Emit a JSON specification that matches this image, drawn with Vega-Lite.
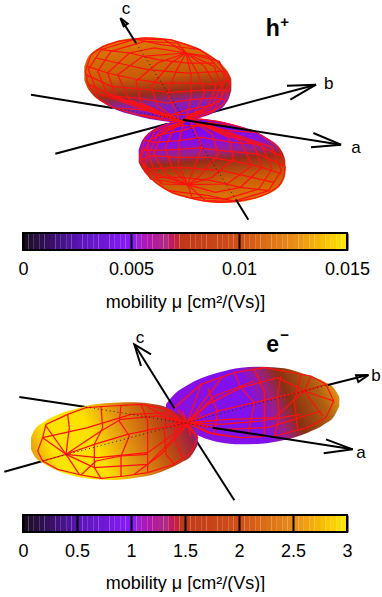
{"$schema":"https://vega.github.io/schema/vega-lite/v6.json","padding":0,"spacing":0,"background":"white","resolve":{"scale":{"color":"independent"}},"config":{"view":{"stroke":null},"font":"Liberation Sans","axis":{"labelFont":"Liberation Sans","titleFont":"Liberation Sans"}},
"vconcat":[
{"width":382,"height":229,
"encoding":{"x":{"field":"x","type":"quantitative","axis":null,"scale":{"domain":[0,1146],"nice":false,"zero":false}},"y":{"field":"y","type":"quantitative","axis":null,"scale":{"domain":[687,0],"nice":false,"zero":false}}},
"layer":[
{"data":{"values":[{"g":"a1","x":90,"y":275},{"g":"a1","x":335,"y":315},{"g":"b1","x":163,"y":452},{"g":"b1","x":500,"y":362},{"g":"b2","x":605,"y":335},{"g":"b2","x":945,"y":245},{"g":"bh","x":858,"y":248},{"g":"bh","x":945,"y":245},{"g":"bh","x":868,"y":290}]},"mark":{"type":"line","color":"black","strokeWidth":2},"encoding":{"detail":{"field":"g"},"order":{"value":null}}},
{"data":{"values":[{"x":250,"t":190,"b":232},{"x":258,"t":168,"b":252},{"x":272,"t":150,"b":272},{"x":300,"t":131,"b":295},{"x":340,"t":116,"b":318},{"x":400,"t":105,"b":337},{"x":450,"t":103,"b":349},{"x":500,"t":108,"b":356},{"x":540,"t":117,"b":358},{"x":590,"t":135,"b":347},{"x":640,"t":165,"b":328},{"x":672,"t":195,"b":305},{"x":684,"t":212,"b":285},{"x":691,"t":228,"b":262}]},"mark":{"type":"area","interpolate":"monotone","color":{"gradient":"linear","x1":0.42,"y1":0,"x2":0.58,"y2":1,"stops":[{"offset":0,"color":"#e07a00"},{"offset":0.45,"color":"#c85c08"},{"offset":0.65,"color":"#982c18"},{"offset":0.78,"color":"#8a20a8"},{"offset":1,"color":"#7a10e8"}]}},"encoding":{"y":{"field":"t","type":"quantitative"},"y2":{"field":"b"}}},
{"data":{"values":[{"x":413,"t":440,"b":478},{"x":420,"t":420,"b":492},{"x":433,"t":400,"b":510},{"x":463,"t":376,"b":540},{"x":513,"t":356,"b":571},{"x":563,"t":345,"b":586},{"x":603,"t":347,"b":595},{"x":653,"t":354,"b":600},{"x":703,"t":366,"b":598},{"x":763,"t":385,"b":587},{"x":803,"t":408,"b":572},{"x":833,"t":431,"b":553},{"x":846,"t":451,"b":535},{"x":853,"t":471,"b":513}]},"mark":{"type":"area","interpolate":"monotone","color":{"gradient":"linear","x1":0.42,"y1":0,"x2":0.58,"y2":1,"stops":[{"offset":0,"color":"#7000ff"},{"offset":0.28,"color":"#8a10e0"},{"offset":0.4,"color":"#982090"},{"offset":0.5,"color":"#982c18"},{"offset":0.72,"color":"#c85c08"},{"offset":1,"color":"#e07a00"}]}},"encoding":{"y":{"field":"t","type":"quantitative"},"y2":{"field":"b"}}},
{"data":{"values":[
{"g":"o","x":340,"y":315},{"g":"o","x":295,"y":290},{"g":"o","x":262,"y":245},{"g":"o","x":253,"y":205},{"g":"o","x":270,"y":155},{"g":"o","x":305,"y":131},{"g":"o","x":350,"y":115},{"g":"o","x":430,"y":105},{"g":"o","x":510,"y":110},{"g":"o","x":590,"y":137},{"g":"o","x":650,"y":175},{"g":"o","x":682,"y":215},{"g":"o","x":688,"y":250},{"g":"o","x":670,"y":300},{"g":"o","x":638,"y":325},{"g":"o","x":600,"y":340},{"g":"o","x":540,"y":355},{"g":"o","x":480,"y":350},{"g":"o","x":420,"y":338},{"g":"o","x":340,"y":315},
{"g":"L1","x":555,"y":150},{"g":"L1","x":610,"y":190},{"g":"L1","x":645,"y":250},{"g":"L1","x":620,"y":310},{"g":"L1","x":545,"y":350},
{"g":"L2","x":555,"y":150},{"g":"L2","x":570,"y":215},{"g":"L2","x":570,"y":280},{"g":"L2","x":555,"y":350},
{"g":"L3","x":555,"y":150},{"g":"L3","x":525,"y":205},{"g":"L3","x":500,"y":270},{"g":"L3","x":535,"y":350},
{"g":"L4","x":555,"y":150},{"g":"L4","x":470,"y":180},{"g":"L4","x":405,"y":235},{"g":"L4","x":420,"y":300},{"g":"L4","x":530,"y":350},
{"g":"L5","x":555,"y":150},{"g":"L5","x":460,"y":135},{"g":"L5","x":385,"y":150},{"g":"L5","x":320,"y":210},{"g":"L5","x":345,"y":280},{"g":"L5","x":530,"y":352},
{"g":"L6","x":555,"y":150},{"g":"L6","x":490,"y":110},{"g":"L6","x":405,"y":108},{"g":"L6","x":300,"y":140},{"g":"L6","x":262,"y":200},{"g":"L6","x":290,"y":270},{"g":"L6","x":530,"y":355},
{"g":"L7","x":555,"y":150},{"g":"L7","x":655,"y":175},{"g":"L7","x":685,"y":240},{"g":"L7","x":640,"y":320},{"g":"L7","x":550,"y":350},
{"g":"L8","x":555,"y":150},{"g":"L8","x":620,"y":160},{"g":"L8","x":670,"y":215},{"g":"L8","x":660,"y":290},{"g":"L8","x":550,"y":350},
{"g":"L9","x":555,"y":150},{"g":"L9","x":590,"y":210},{"g":"L9","x":610,"y":270},{"g":"L9","x":585,"y":325},{"g":"L9","x":550,"y":350},
{"g":"L10","x":555,"y":150},{"g":"L10","x":510,"y":180},{"g":"L10","x":450,"y":250},{"g":"L10","x":470,"y":310},{"g":"L10","x":535,"y":352},
{"g":"L11","x":555,"y":150},{"g":"L11","x":425,"y":160},{"g":"L11","x":350,"y":215},{"g":"L11","x":385,"y":290},{"g":"L11","x":530,"y":350},
{"g":"L12","x":555,"y":150},{"g":"L12","x":530,"y":120},{"g":"L12","x":430,"y":115},{"g":"L12","x":330,"y":145},{"g":"L12","x":290,"y":205},{"g":"L12","x":320,"y":275},{"g":"L12","x":530,"y":352},
{"g":"L13","x":555,"y":150},{"g":"L13","x":640,"y":190},{"g":"L13","x":660,"y":250},{"g":"L13","x":630,"y":315},{"g":"L13","x":550,"y":350},
{"g":"R1","x":260,"y":190},{"g":"R1","x":320,"y":210},{"g":"R1","x":400,"y":228},{"g":"R1","x":480,"y":240},{"g":"R1","x":570,"y":240},{"g":"R1","x":650,"y":245},{"g":"R1","x":688,"y":230},
{"g":"R2","x":265,"y":245},{"g":"R2","x":340,"y":280},{"g":"R2","x":410,"y":285},{"g":"R2","x":500,"y":300},{"g":"R2","x":570,"y":290},{"g":"R2","x":640,"y":285},{"g":"R2","x":670,"y":290},
{"g":"R3","x":340,"y":315},{"g":"R3","x":420,"y":320},{"g":"R3","x":500,"y":335},{"g":"R3","x":560,"y":335},{"g":"R3","x":610,"y":325},
{"g":"R4","x":300,"y":140},{"g":"R4","x":385,"y":150},{"g":"R4","x":470,"y":170},{"g":"R4","x":560,"y":180},{"g":"R4","x":640,"y":180},
{"g":"R5","x":400,"y":108},{"g":"R5","x":480,"y":125},{"g":"R5","x":560,"y":135},{"g":"R5","x":600,"y":140},
{"g":"R6","x":255,"y":215},{"g":"R6","x":330,"y":250},{"g":"R6","x":420,"y":258},{"g":"R6","x":510,"y":268},{"g":"R6","x":600,"y":262},{"g":"R6","x":685,"y":262},
{"g":"R7","x":285,"y":165},{"g":"R7","x":350,"y":180},{"g":"R7","x":440,"y":200},{"g":"R7","x":560,"y":210},{"g":"R7","x":665,"y":205},
{"g":"R8","x":420,"y":335},{"g":"R8","x":480,"y":345},{"g":"R8","x":560,"y":320},{"g":"R8","x":640,"y":305},
{"g":"p","x":853,"y":493},{"g":"p","x":848,"y":525},{"g":"p","x":833,"y":550},{"g":"p","x":803,"y":570},{"g":"p","x":763,"y":585},{"g":"p","x":703,"y":596},{"g":"p","x":653,"y":598},{"g":"p","x":603,"y":593},{"g":"p","x":563,"y":584},{"g":"p","x":513,"y":569},{"g":"p","x":463,"y":538},{"g":"p","x":433,"y":508},{"g":"p","x":416,"y":463},{"g":"p","x":433,"y":402},{"g":"p","x":463,"y":378},{"g":"p","x":513,"y":358},{"g":"p","x":563,"y":347},{"g":"p","x":603,"y":349},{"g":"p","x":653,"y":356},{"g":"p","x":703,"y":368},{"g":"p","x":763,"y":387},{"g":"p","x":803,"y":410},{"g":"p","x":833,"y":433},{"g":"p","x":853,"y":493},
{"g":"M1","x":560,"y":545},{"g":"M1","x":493,"y":513},{"g":"M1","x":458,"y":453},{"g":"M1","x":483,"y":393},{"g":"M1","x":558,"y":353},
{"g":"M2","x":560,"y":545},{"g":"M2","x":533,"y":488},{"g":"M2","x":533,"y":423},{"g":"M2","x":548,"y":353},
{"g":"M3","x":560,"y":545},{"g":"M3","x":578,"y":498},{"g":"M3","x":603,"y":433},{"g":"M3","x":568,"y":353},
{"g":"M4","x":560,"y":545},{"g":"M4","x":633,"y":523},{"g":"M4","x":698,"y":468},{"g":"M4","x":683,"y":403},{"g":"M4","x":573,"y":353},
{"g":"M5","x":560,"y":545},{"g":"M5","x":643,"y":568},{"g":"M5","x":718,"y":553},{"g":"M5","x":783,"y":493},{"g":"M5","x":758,"y":423},{"g":"M5","x":573,"y":351},
{"g":"M6","x":560,"y":545},{"g":"M6","x":613,"y":593},{"g":"M6","x":698,"y":595},{"g":"M6","x":803,"y":563},{"g":"M6","x":841,"y":503},{"g":"M6","x":813,"y":433},{"g":"M6","x":573,"y":348},
{"g":"M7","x":560,"y":545},{"g":"M7","x":448,"y":528},{"g":"M7","x":418,"y":463},{"g":"M7","x":463,"y":383},{"g":"M7","x":553,"y":353},
{"g":"M8","x":560,"y":545},{"g":"M8","x":483,"y":543},{"g":"M8","x":433,"y":488},{"g":"M8","x":443,"y":413},{"g":"M8","x":553,"y":353},
{"g":"M9","x":560,"y":545},{"g":"M9","x":513,"y":493},{"g":"M9","x":493,"y":433},{"g":"M9","x":518,"y":378},{"g":"M9","x":553,"y":353},
{"g":"M10","x":560,"y":545},{"g":"M10","x":593,"y":523},{"g":"M10","x":653,"y":453},{"g":"M10","x":633,"y":393},{"g":"M10","x":568,"y":351},
{"g":"M11","x":560,"y":545},{"g":"M11","x":678,"y":543},{"g":"M11","x":753,"y":488},{"g":"M11","x":718,"y":413},{"g":"M11","x":573,"y":353},
{"g":"M12","x":560,"y":545},{"g":"M12","x":573,"y":583},{"g":"M12","x":673,"y":588},{"g":"M12","x":773,"y":558},{"g":"M12","x":813,"y":498},{"g":"M12","x":783,"y":428},{"g":"M12","x":573,"y":351},
{"g":"M13","x":560,"y":545},{"g":"M13","x":463,"y":513},{"g":"M13","x":443,"y":453},{"g":"M13","x":473,"y":388},{"g":"M13","x":553,"y":353},
{"g":"S1","x":843,"y":513},{"g":"S1","x":783,"y":493},{"g":"S1","x":703,"y":475},{"g":"S1","x":623,"y":463},{"g":"S1","x":533,"y":463},{"g":"S1","x":453,"y":458},{"g":"S1","x":415,"y":473},
{"g":"S2","x":838,"y":458},{"g":"S2","x":763,"y":423},{"g":"S2","x":693,"y":418},{"g":"S2","x":603,"y":403},{"g":"S2","x":533,"y":413},{"g":"S2","x":463,"y":418},{"g":"S2","x":433,"y":413},
{"g":"S3","x":763,"y":388},{"g":"S3","x":683,"y":383},{"g":"S3","x":603,"y":368},{"g":"S3","x":543,"y":368},{"g":"S3","x":493,"y":378},
{"g":"S4","x":803,"y":563},{"g":"S4","x":718,"y":553},{"g":"S4","x":633,"y":533},{"g":"S4","x":543,"y":523},{"g":"S4","x":463,"y":523},
{"g":"S5","x":703,"y":595},{"g":"S5","x":623,"y":578},{"g":"S5","x":543,"y":568},{"g":"S5","x":503,"y":563},
{"g":"S6","x":848,"y":488},{"g":"S6","x":773,"y":453},{"g":"S6","x":683,"y":445},{"g":"S6","x":593,"y":435},{"g":"S6","x":503,"y":441},{"g":"S6","x":418,"y":441},
{"g":"S7","x":818,"y":538},{"g":"S7","x":753,"y":523},{"g":"S7","x":663,"y":503},{"g":"S7","x":543,"y":493},{"g":"S7","x":438,"y":498},
{"g":"S8","x":683,"y":368},{"g":"S8","x":623,"y":358},{"g":"S8","x":543,"y":383},{"g":"S8","x":463,"y":398}
]},"mark":{"type":"line","color":"#ff1010","strokeWidth":1.25},"encoding":{"detail":{"field":"g"},"order":{"value":null}}},
{"data":{"values":[{"g":"a","x":335,"y":315},{"g":"a","x":545,"y":350},{"g":"c","x":705,"y":590},{"g":"c","x":405,"y":120}]},"mark":{"type":"line","color":"#222222","strokeWidth":1,"strokeDash":[1,3]},"encoding":{"detail":{"field":"g"},"order":{"value":null}}},
{"data":{"values":[{"g":"a2","x":545,"y":350},{"g":"a2","x":1020,"y":425},{"g":"ah","x":937,"y":390},{"g":"ah","x":1020,"y":425},{"g":"ah","x":930,"y":433},{"g":"c1","x":742,"y":650},{"g":"c1","x":705,"y":590},{"g":"c2","x":405,"y":120},{"g":"c2","x":360,"y":48},{"g":"ch","x":358,"y":45},{"g":"ch","x":380,"y":62},{"g":"ch","x":368,"y":70},{"g":"ch","x":358,"y":45}]},"mark":{"type":"line","color":"black","strokeWidth":2},"encoding":{"detail":{"field":"g"},"order":{"value":null}}},
{"data":{"values":[{"label":"a","x":1065,"y":435},{"label":"b","x":983,"y":243},{"label":"c","x":375,"y":18}]},"mark":{"type":"text","fontSize":17,"color":"black","align":"center","baseline":"middle"},"encoding":{"text":{"field":"label"}}},
{"data":{"values":[{"label":"h","x":815,"y":78}]},"mark":{"type":"text","fontSize":23,"fontWeight":"bold","color":"black","align":"center","baseline":"middle"},"encoding":{"text":{"field":"label"}}},
{"data":{"values":[{"label":"+","x":851,"y":56}]},"mark":{"type":"text","fontSize":15,"fontWeight":"bold","color":"black","align":"center","baseline":"middle"},"encoding":{"text":{"field":"label"}}}
]},
{"width":382,"height":17,"data":{"values":[{"v":0,"e":0.00025},{"v":0.00025,"e":0.0005},{"v":0.0005,"e":0.00075},{"v":0.00075,"e":0.001},{"v":0.001,"e":0.00125},{"v":0.00125,"e":0.0015},{"v":0.0015,"e":0.00175},{"v":0.00175,"e":0.002},{"v":0.002,"e":0.00225},{"v":0.00225,"e":0.0025},{"v":0.0025,"e":0.00275},{"v":0.00275,"e":0.003},{"v":0.003,"e":0.00325},{"v":0.00325,"e":0.0035},{"v":0.0035,"e":0.00375},{"v":0.00375,"e":0.004},{"v":0.004,"e":0.00425},{"v":0.00425,"e":0.0045},{"v":0.0045,"e":0.00475},{"v":0.00475,"e":0.005},{"v":0.005,"e":0.00525},{"v":0.00525,"e":0.0055},{"v":0.0055,"e":0.00575},{"v":0.00575,"e":0.006},{"v":0.006,"e":0.00625},{"v":0.00625,"e":0.0065},{"v":0.0065,"e":0.00675},{"v":0.00675,"e":0.007},{"v":0.007,"e":0.00725},{"v":0.00725,"e":0.0075},{"v":0.0075,"e":0.00775},{"v":0.00775,"e":0.008},{"v":0.008,"e":0.00825},{"v":0.00825,"e":0.0085},{"v":0.0085,"e":0.00875},{"v":0.00875,"e":0.009},{"v":0.009,"e":0.00925},{"v":0.00925,"e":0.0095},{"v":0.0095,"e":0.00975},{"v":0.00975,"e":0.01},{"v":0.01,"e":0.01025},{"v":0.01025,"e":0.0105},{"v":0.0105,"e":0.01075},{"v":0.01075,"e":0.011},{"v":0.011,"e":0.01125},{"v":0.01125,"e":0.0115},{"v":0.0115,"e":0.01175},{"v":0.01175,"e":0.012},{"v":0.012,"e":0.01225},{"v":0.01225,"e":0.0125},{"v":0.0125,"e":0.01275},{"v":0.01275,"e":0.013},{"v":0.013,"e":0.01325},{"v":0.01325,"e":0.0135},{"v":0.0135,"e":0.01375},{"v":0.01375,"e":0.014},{"v":0.014,"e":0.01425},{"v":0.01425,"e":0.0145},{"v":0.0145,"e":0.01475},{"v":0.01475,"e":0.015}]},
"layer":[
{"mark":{"type":"rect"},"encoding":{"x":{"field":"v","type":"quantitative","scale":{"domain":[0,0.015],"range":[22,346],"nice":false,"zero":false},"axis":{"values":[0,0.005,0.01,0.015],"format":"~g","title":"mobility μ [cm²/(Vs)]","labelFontSize":18,"titleFontSize":18,"labelColor":"black","titleColor":"black","titleFontWeight":"normal","labelFlush":false,"labelOverlap":false,"tickSize":0,"domain":false,"grid":true,"gridColor":"black","gridWidth":2,"zindex":1,"labelPadding":10,"titlePadding":15}},"x2":{"field":"e"},"color":{"field":"v","type":"quantitative","legend":null,"scale":{"domain":[0,0.001,0.0025,0.005,0.0052,0.0065,0.0072,0.01,0.0125,0.015],"range":["#1c0c24","#33105c","#5c14b8","#8c1cff","#a020d0","#b02c80","#c03818","#d05018","#e89018","#ffee10"]}}}},
{"data":{"values":[{"v":0,"e":0.015}]},"mark":{"type":"rect","fill":null,"stroke":"black","strokeWidth":2},"encoding":{"x":{"field":"v","type":"quantitative"},"x2":{"field":"e"}}}
]},
{"width":382,"height":203,
"encoding":{"x":{"field":"x","type":"quantitative","axis":null,"scale":{"domain":[0,1146],"nice":false,"zero":false}},"y":{"field":"y","type":"quantitative","axis":null,"scale":{"domain":[579,-30],"nice":false,"zero":false}}},
"layer":[
{"data":{"values":[{"g":"a1","x":55,"y":228},{"g":"a1","x":255,"y":258},{"g":"b1","x":10,"y":452},{"g":"b1","x":125,"y":420},{"g":"c1","x":700,"y":538},{"g":"c1","x":580,"y":350}]},"mark":{"type":"line","color":"black","strokeWidth":2},"encoding":{"detail":{"field":"g"},"order":{"value":null}}},
{"data":{"values":[{"x":495,"t":250,"b":272},{"x":520,"t":220,"b":303},{"x":560,"t":192,"b":328},{"x":600,"t":172,"b":347},{"x":650,"t":155,"b":363},{"x":720,"t":140,"b":370},{"x":780,"t":137,"b":368},{"x":850,"t":142,"b":357},{"x":920,"t":163,"b":335},{"x":970,"t":182,"b":310},{"x":1000,"t":203,"b":285},{"x":1015,"t":228,"b":255}]},"mark":{"type":"area","interpolate":"monotone","color":{"gradient":"linear","x1":0,"y1":0.6,"x2":1,"y2":0.4,"stops":[{"offset":0,"color":"#8a10e0"},{"offset":0.5,"color":"#8010f0"},{"offset":0.62,"color":"#9a2080"},{"offset":0.72,"color":"#8a3010"},{"offset":0.9,"color":"#b06010"},{"offset":1,"color":"#e09010"}]}},"encoding":{"y":{"field":"t","type":"quantitative"},"y2":{"field":"b"}}},
{"data":{"values":[{"x":90,"t":350,"b":385},{"x":100,"t":328,"b":405},{"x":130,"t":302,"b":428},{"x":170,"t":281,"b":449},{"x":220,"t":265,"b":465},{"x":280,"t":250,"b":475},{"x":340,"t":245,"b":477},{"x":400,"t":244,"b":471},{"x":460,"t":250,"b":460},{"x":500,"t":260,"b":445},{"x":540,"t":283,"b":425},{"x":570,"t":298,"b":405},{"x":590,"t":325,"b":372}]},"mark":{"type":"area","interpolate":"monotone","color":{"gradient":"linear","x1":0,"y1":0.6,"x2":1,"y2":0.4,"stops":[{"offset":0,"color":"#e8a010"},{"offset":0.12,"color":"#ffe400"},{"offset":0.38,"color":"#ffe000"},{"offset":0.58,"color":"#e09010"},{"offset":0.78,"color":"#c05010"},{"offset":0.95,"color":"#a02040"},{"offset":1,"color":"#8020c0"}]}},"encoding":{"y":{"field":"t","type":"quantitative"},"y2":{"field":"b"}}},
{"data":{"values":[
{"g":"A","x":125,"y":420},{"g":"A","x":110,"y":390},{"g":"A","x":125,"y":350},{"g":"A","x":135,"y":310},{"g":"A","x":200,"y":280},{"g":"A","x":255,"y":260},{"g":"A","x":330,"y":255},{"g":"A","x":420,"y":250},{"g":"A","x":500,"y":265},{"g":"A","x":555,"y":310},
{"g":"B","x":125,"y":420},{"g":"B","x":170,"y":445},{"g":"B","x":240,"y":462},{"g":"B","x":300,"y":472},{"g":"B","x":370,"y":465},{"g":"B","x":440,"y":455},{"g":"B","x":520,"y":430},{"g":"B","x":570,"y":395},{"g":"B","x":590,"y":350},{"g":"B","x":555,"y":310},
{"g":"C","x":125,"y":350},{"g":"C","x":195,"y":400},{"g":"C","x":280,"y":370},{"g":"C","x":380,"y":340},{"g":"C","x":480,"y":320},{"g":"C","x":560,"y":310},
{"g":"D","x":135,"y":315},{"g":"D","x":195,"y":400},{"g":"D","x":125,"y":420},
{"g":"E","x":195,"y":400},{"g":"E","x":300,"y":330},{"g":"E","x":360,"y":295},{"g":"E","x":470,"y":285},{"g":"E","x":560,"y":310},
{"g":"F","x":125,"y":350},{"g":"F","x":260,"y":320},{"g":"F","x":390,"y":280},{"g":"F","x":500,"y":275},{"g":"F","x":560,"y":310},
{"g":"G","x":195,"y":400},{"g":"G","x":290,"y":410},{"g":"G","x":440,"y":395},{"g":"G","x":560,"y":310},
{"g":"H","x":195,"y":400},{"g":"H","x":280,"y":440},{"g":"H","x":440,"y":430},{"g":"H","x":560,"y":310},
{"g":"I","x":240,"y":462},{"g":"I","x":285,"y":420},{"g":"I","x":360,"y":405},{"g":"I","x":440,"y":400},
{"g":"J","x":420,"y":250},{"g":"J","x":440,"y":300},{"g":"J","x":440,"y":395},{"g":"J","x":440,"y":455},
{"g":"K","x":300,"y":255},{"g":"K","x":305,"y":320},{"g":"K","x":280,"y":370},{"g":"K","x":280,"y":440},{"g":"K","x":300,"y":472},
{"g":"N","x":360,"y":255},{"g":"N","x":355,"y":300},{"g":"N","x":385,"y":345},{"g":"N","x":360,"y":405},{"g":"N","x":360,"y":465},
{"g":"O","x":200,"y":280},{"g":"O","x":205,"y":320},{"g":"O","x":195,"y":400},{"g":"O","x":235,"y":460},
{"g":"P","x":500,"y":265},{"g":"P","x":490,"y":330},{"g":"P","x":495,"y":400},{"g":"P","x":520,"y":430},
{"g":"Q","x":440,"y":258},{"g":"Q","x":500,"y":290},{"g":"Q","x":560,"y":310},
{"g":"S","x":400,"y":460},{"g":"S","x":480,"y":400},{"g":"S","x":560,"y":310},
{"g":"T","x":530,"y":285},{"g":"T","x":520,"y":350},{"g":"T","x":545,"y":410},
{"g":"a","x":520,"y":260},{"g":"a","x":600,"y":190},{"g":"a","x":700,"y":155},{"g":"a","x":790,"y":140},{"g":"a","x":930,"y":165},{"g":"a","x":975,"y":190},{"g":"a","x":998,"y":240},{"g":"a","x":975,"y":290},{"g":"a","x":920,"y":320},{"g":"a","x":820,"y":345},{"g":"a","x":720,"y":350},{"g":"a","x":620,"y":335},{"g":"a","x":570,"y":310},
{"g":"b","x":560,"y":305},{"g":"b","x":620,"y":250},{"g":"b","x":720,"y":200},{"g":"b","x":830,"y":170},{"g":"b","x":910,"y":210},
{"g":"c","x":560,"y":305},{"g":"c","x":650,"y":270},{"g":"c","x":760,"y":245},{"g":"c","x":910,"y":210},
{"g":"d","x":560,"y":305},{"g":"d","x":680,"y":295},{"g":"d","x":820,"y":290},{"g":"d","x":910,"y":210},
{"g":"e","x":560,"y":305},{"g":"e","x":670,"y":325},{"g":"e","x":800,"y":320},{"g":"e","x":960,"y":270},
{"g":"f","x":975,"y":190},{"g":"f","x":910,"y":210},{"g":"f","x":998,"y":240},
{"g":"h","x":965,"y":285},{"g":"h","x":910,"y":210},{"g":"h","x":930,"y":165},
{"g":"i","x":840,"y":165},{"g":"i","x":830,"y":220},{"g":"i","x":835,"y":290},{"g":"i","x":820,"y":345},
{"g":"j","x":700,"y":155},{"g":"j","x":720,"y":200},{"g":"j","x":760,"y":245},{"g":"j","x":740,"y":345},
{"g":"k","x":620,"y":200},{"g":"k","x":640,"y":250},{"g":"k","x":650,"y":270},{"g":"k","x":640,"y":335},
{"g":"l","x":560,"y":305},{"g":"l","x":600,"y":190},
{"g":"m","x":560,"y":305},{"g":"m","x":660,"y":172},
{"g":"n","x":530,"y":265},{"g":"n","x":590,"y":350},
{"g":"o","x":510,"y":290},{"g":"o","x":620,"y":320},
{"g":"q","x":520,"y":330},{"g":"q","x":600,"y":280},
{"g":"r","x":545,"y":270},{"g":"r","x":570,"y":345},
{"g":"s","x":500,"y":310},{"g":"s","x":630,"y":300},
{"g":"t","x":560,"y":305},{"g":"t","x":640,"y":225},{"g":"t","x":760,"y":180},
{"g":"u","x":560,"y":305},{"g":"u","x":660,"y":310},{"g":"u","x":780,"y":300},{"g":"u","x":900,"y":280},
{"g":"w","x":560,"y":305},{"g":"w","x":640,"y":340},{"g":"w","x":700,"y":348},
{"g":"y","x":760,"y":145},{"g":"y","x":790,"y":210},{"g":"y","x":790,"y":345},
{"g":"z","x":900,"y":160},{"g":"z","x":880,"y":240},{"g":"z","x":890,"y":325}
]},"mark":{"type":"line","color":"#ff1010","strokeWidth":1.25},"encoding":{"detail":{"field":"g"},"order":{"value":null}}},
{"data":{"values":[{"g":"a","x":255,"y":258},{"g":"a","x":635,"y":320},{"g":"b","x":125,"y":420},{"g":"b","x":980,"y":192}]},"mark":{"type":"line","color":"#222222","strokeWidth":1,"strokeDash":[1,3]},"encoding":{"detail":{"field":"g"},"order":{"value":null}}},
{"data":{"values":[{"g":"a2","x":635,"y":320},{"g":"a2","x":1055,"y":385},{"g":"ah","x":975,"y":355},{"g":"ah","x":1055,"y":385},{"g":"ah","x":968,"y":397},{"g":"b2","x":980,"y":192},{"g":"b2","x":1100,"y":162},{"g":"bh","x":1103,"y":162},{"g":"bh","x":1065,"y":163},{"g":"bh","x":1072,"y":183},{"g":"bh","x":1103,"y":162},{"g":"c3","x":520,"y":262},{"g":"c3","x":400,"y":70},{"g":"ch","x":450,"y":100},{"g":"ch","x":400,"y":70},{"g":"ch","x":420,"y":135}]},"mark":{"type":"line","color":"black","strokeWidth":2},"encoding":{"detail":{"field":"g"},"order":{"value":null}}},
{"data":{"values":[{"label":"a","x":1080,"y":395},{"label":"b","x":1125,"y":165},{"label":"c","x":417,"y":50}]},"mark":{"type":"text","fontSize":17,"color":"black","align":"center","baseline":"middle"},"encoding":{"text":{"field":"label"}}},
{"data":{"values":[{"label":"e","x":815,"y":72}]},"mark":{"type":"text","fontSize":23,"fontWeight":"bold","color":"black","align":"center","baseline":"middle"},"encoding":{"text":{"field":"label"}}},
{"data":{"values":[{"label":"−","x":851,"y":42}]},"mark":{"type":"text","fontSize":15,"fontWeight":"bold","color":"black","align":"center","baseline":"middle"},"encoding":{"text":{"field":"label"}}}
]},
{"width":382,"height":17,"data":{"values":[{"v":0,"e":0.05},{"v":0.05,"e":0.1},{"v":0.1,"e":0.15},{"v":0.15,"e":0.2},{"v":0.2,"e":0.25},{"v":0.25,"e":0.3},{"v":0.3,"e":0.35},{"v":0.35,"e":0.4},{"v":0.4,"e":0.45},{"v":0.45,"e":0.5},{"v":0.5,"e":0.55},{"v":0.55,"e":0.6},{"v":0.6,"e":0.65},{"v":0.65,"e":0.7},{"v":0.7,"e":0.75},{"v":0.75,"e":0.8},{"v":0.8,"e":0.85},{"v":0.85,"e":0.9},{"v":0.9,"e":0.95},{"v":0.95,"e":1},{"v":1,"e":1.05},{"v":1.05,"e":1.1},{"v":1.1,"e":1.15},{"v":1.15,"e":1.2},{"v":1.2,"e":1.25},{"v":1.25,"e":1.3},{"v":1.3,"e":1.35},{"v":1.35,"e":1.4},{"v":1.4,"e":1.45},{"v":1.45,"e":1.5},{"v":1.5,"e":1.55},{"v":1.55,"e":1.6},{"v":1.6,"e":1.65},{"v":1.65,"e":1.7},{"v":1.7,"e":1.75},{"v":1.75,"e":1.8},{"v":1.8,"e":1.85},{"v":1.85,"e":1.9},{"v":1.9,"e":1.95},{"v":1.95,"e":2},{"v":2,"e":2.05},{"v":2.05,"e":2.1},{"v":2.1,"e":2.15},{"v":2.15,"e":2.2},{"v":2.2,"e":2.25},{"v":2.25,"e":2.3},{"v":2.3,"e":2.35},{"v":2.35,"e":2.4},{"v":2.4,"e":2.45},{"v":2.45,"e":2.5},{"v":2.5,"e":2.55},{"v":2.55,"e":2.6},{"v":2.6,"e":2.65},{"v":2.65,"e":2.7},{"v":2.7,"e":2.75},{"v":2.75,"e":2.8},{"v":2.8,"e":2.85},{"v":2.85,"e":2.9},{"v":2.9,"e":2.95},{"v":2.95,"e":3}]},
"layer":[
{"mark":{"type":"rect"},"encoding":{"x":{"field":"v","type":"quantitative","scale":{"domain":[0,3],"range":[22,346],"nice":false,"zero":false},"axis":{"values":[0,0.5,1,1.5,2,2.5,3],"format":"~g","title":"mobility μ [cm²/(Vs)]","labelFontSize":18,"titleFontSize":18,"labelColor":"black","titleColor":"black","titleFontWeight":"normal","labelFlush":false,"labelOverlap":false,"tickSize":0,"domain":false,"grid":true,"gridColor":"black","gridWidth":2,"zindex":1,"labelPadding":10,"titlePadding":14}},"x2":{"field":"e"},"color":{"field":"v","type":"quantitative","legend":null,"scale":{"domain":[0,0.2,0.5,1,1.04,1.3,1.44,2,2.5,3],"range":["#1c0c24","#33105c","#5c14b8","#8c1cff","#a020d0","#b02c80","#c03818","#d05018","#e89018","#ffee10"]}}}},
{"data":{"values":[{"v":0,"e":3}]},"mark":{"type":"rect","fill":null,"stroke":"black","strokeWidth":2},"encoding":{"x":{"field":"v","type":"quantitative"},"x2":{"field":"e"}}}
]}
]}
